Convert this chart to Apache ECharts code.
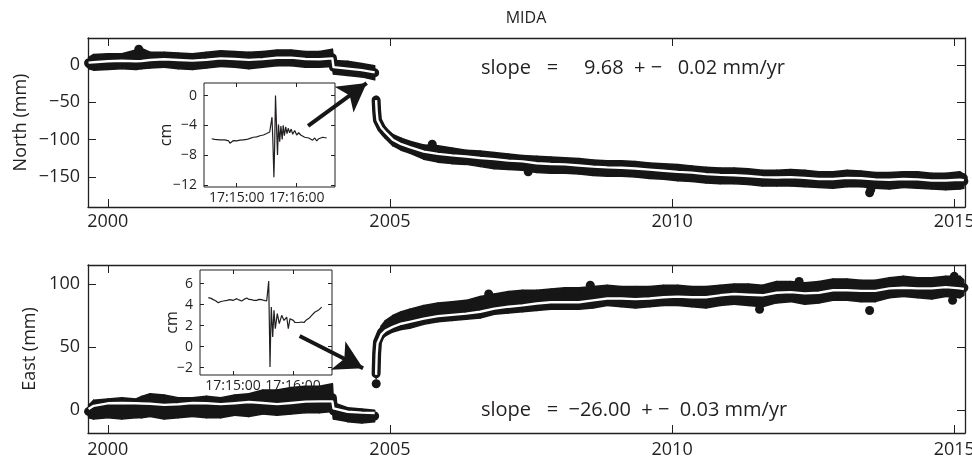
<!DOCTYPE html>
<html><head><meta charset="utf-8">
<script src="https://cdn.jsdelivr.net/npm/echarts@6/dist/echarts.min.js"></script>
<style>html,body{margin:0;padding:0;background:#fff}#c{width:972px;height:463px}</style>
</head><body><div id="c"></div>
<script>
const FONT = '"Open Sans", "Noto Sans", sans-serif';
const INK = '#231f20';
const DOT = '#161616';

const chartTitle = 'MIDA';
const xTicks = [2000, 2005, 2010, 2015];
const northTicks = [-150, -100, -50, 0];
const eastTicks = [0, 50, 100];
const northName = 'North (mm)';
const eastName = 'East (mm)';
const northSlope = 'slope   =     9.68  + \u2212   0.02 mm/yr';
const eastSlope = 'slope   =  \u221226.00  + \u2212  0.03 mm/yr';

// shared time grid (decimal years); null values mark the coseismic gap
const years = [
  1999.66, 1999.75, 2000.0, 2000.25, 2000.5, 2000.6, 2000.75, 2001.0, 2001.25, 2001.5,
  2001.75, 2002.0, 2002.25, 2002.5, 2002.75, 2003.0, 2003.25, 2003.5, 2003.75, 2003.98,
  2004.0, 2004.25, 2004.5, 2004.73, 2004.745,
  2004.755, 2004.765, 2004.78, 2004.85, 2004.92, 2005.05, 2005.2, 2005.35,
  2005.6, 2005.85, 2006.1, 2006.35, 2006.6, 2006.85, 2007.1, 2007.35, 2007.6, 2007.85,
  2008.1, 2008.35, 2008.6, 2008.85, 2009.1, 2009.35, 2009.6, 2009.85,
  2010.1, 2010.35, 2010.6, 2010.85, 2011.1, 2011.35, 2011.6, 2011.85,
  2012.1, 2012.35, 2012.6, 2012.85, 2013.1, 2013.35, 2013.6, 2013.85,
  2014.1, 2014.35, 2014.6, 2014.85, 2015.1, 2015.17
];

// North (mm): model curve (white) and the upper/lower edges of the data band
const northModel = [
  3.0, 3.5, 5.0, 5.5, 5.0, 5.3, 6.5, 7.5, 6.5, 5.8,
  7.0, 8.8, 8.0, 6.8, 7.8, 9.6, 9.8, 8.0, 7.6, 8.8,
  -3.0, -5.0, -7.0, -10.0, null,
  -47, -62, -74, -84, -90, -100, -106, -110,
  -116, -119, -121, -122.5, -124.5, -126, -128, -129, -131.5, -132.5,
  -133, -134.5, -136, -137, -137.5, -138.5, -140, -141.5,
  -143, -144, -146, -147, -147.5, -148.5, -150, -150.5,
  -150, -151, -152.5, -152.5, -151, -151.5, -153, -153.5,
  -152.5, -153, -154.5, -154.5, -153.5, -154
];
const northHi = [
  10, 14, 15, 15, 20, 22, 17, 17, 16, 15,
  17, 19, 18, 17, 18, 20, 20, 18, 18, 21,
  6, 5, 2, -1, null,
  -42, -56, -68, -78, -84, -93, -98, -102,
  -107, -108, -111, -114, -115, -117, -119, -121, -122, -123,
  -124, -125, -127, -128, -128, -129, -131, -132,
  -133, -135, -137, -138, -138, -139, -141, -141,
  -140, -141, -143, -143, -141, -142, -144, -144,
  -143, -143, -145, -145, -143, -146
];
const northLo = [
  -5, -7, -6, -5, -6, -5, -4, -3, -5, -6,
  -4, -2, -3, -5, -3, -1, -1, -3, -3, -2,
  -12, -14, -16, -20, null,
  -52, -68, -80, -91, -98, -108, -114, -118,
  -126, -130, -132, -133, -136, -139, -140, -141, -144, -145,
  -145, -146, -148, -149, -149, -150, -152, -153,
  -155, -156, -158, -159, -159, -160, -162, -162,
  -162, -163, -164, -165, -163, -163, -165, -166,
  -164, -165, -166, -167, -166, -165
];
const northOutliers = [[1999.68, 1], [2000.55, 21], [2005.75, -106], [2007.45, -143], [2013.5, -171], [2013.52, -167], [2015.16, -151]];

// East (mm)
const eastModel = [
  1.0, 3.5, 5.5, 5.8, 5.5, 5.4, 5.2, 4.3, 4.8, 5.7,
  5.5, 4.9, 5.6, 6.5, 5.8, 4.9, 5.8, 6.8, 7.0, 7.0,
  1.5, -1.2, -1.9, -2.2, null,
  28, 44, 53, 60, 63, 66, 68.5, 70,
  72.5, 74.5, 75.5, 76.5, 78, 80.5, 82, 83, 84.5, 85.5,
  85.5, 85.5, 87, 88.5, 88.5, 88, 88.5, 89.5,
  90, 89.5, 89.5, 91, 92, 91.5, 91, 93,
  93.5, 92.5, 93, 95, 95, 94.5, 94.5, 96.5,
  97, 96.5, 96.5, 97.5, 96.5, 96
];
const eastHi = [
  4, 8, 9, 10, 9, 11, 13, 12, 10, 10,
  11, 10, 12, 13, 16, 16, 18, 19, 19, 21,
  6, 2, 1, 0, null,
  33, 50, 59, 67, 71, 75, 78, 80,
  83, 85, 86, 87, 90, 92, 94, 95, 95, 96,
  97, 97, 98, 99, 98, 98, 98, 99,
  99, 98, 98, 99, 100, 100, 99, 102,
  102, 101, 102, 104, 104, 103, 103, 105,
  106, 105, 105, 106, 106, 103
];
const eastLo = [
  -6, -7, -6, -7, -6, -6, -5, -7, -6, -5,
  -6, -6, -4, -5, -3, -4, -3, -2, -2, -1,
  -7, -9, -10, -9, null,
  25, 40, 49, 56, 59, 62, 64, 65,
  68, 70, 71, 72, 73, 76, 77, 78, 79, 80,
  80, 80, 81, 83, 82, 81, 82, 83,
  83, 82, 81, 83, 84, 83, 82, 85,
  86, 84, 85, 87, 87, 86, 86, 89,
  90, 89, 88, 90, 89, 91
];
const eastOutliers = [[2004.757, 21], [2006.75, 92], [2008.55, 99], [2011.55, 80], [2012.25, 102], [2013.5, 79], [2014.97, 87], [2015.0, 106]];

// Insets: seconds after 17:15:00, displacement in cm
const insetTimeTicks = [0, 60];
const insetTimeLabels = ['17:15:00', '17:16:00'];
const insetNorthTicks = [-12, -8, -4, 0];
const insetEastTicks = [-2, 0, 2, 4, 6];
const insetNorthSec = [-25, -22, -20, -17, -15, -12, -10, -8, -6.7, -5, -3.3, 0, 3.3, 6.7, 10, 13.3, 16.7, 20, 23.3, 26.7, 30, 33, 34.5, 35.3, 36.2, 37.2, 38.0, 38.8, 39.8, 40.8, 41.8, 43, 44.2, 45.5, 46.5, 47.7, 49, 50.3, 51.5, 53, 54.5, 56, 58, 60, 62, 64, 66, 68, 70, 72, 74, 76, 78, 80, 82, 84, 86, 88, 90];
const insetNorthCm = [-5.8, -5.9, -5.85, -5.95, -5.8, -5.95, -6.0, -6.1, -6.4, -6.2, -6.05, -6.1, -6.0, -5.95, -5.9, -5.75, -5.6, -5.55, -5.4, -5.3, -5.1, -4.9, -4.7, -2.9, -6.2, -11.0, -6.5, 0.0, -4.0, -8.0, -3.9, -6.2, -4.1, -5.9, -4.0, -5.4, -4.2, -5.1, -4.4, -5.0, -4.5, -5.2, -4.7, -5.3, -5.0, -5.3, -5.2, -5.6, -5.4, -5.7, -5.6, -6.0, -5.7, -6.1, -5.8, -5.9, -5.6, -5.8, -5.7];
const insetEastSec = [-24.7, -22, -19.7, -17, -14.7, -12, -9.7, -6, -3, 0, 3.7, 6, 8.7, 11, 13.7, 16, 18.7, 21, 23.7, 26, 28.7, 31, 33.7, 35.2, 35.7, 36.4, 37.0, 37.6, 38.3, 39.7, 41, 42.3, 44.3, 46.3, 48.7, 51, 53.7, 55.3, 57, 60.3, 62, 63.7, 66, 68.7, 71, 73.7, 76, 78.7, 80.5, 82, 84, 85.3, 87, 88.7];
const insetEastCm = [4.67, 4.6, 4.48, 4.35, 4.19, 4.3, 4.35, 4.4, 4.48, 4.4, 4.57, 4.45, 4.35, 4.5, 4.63, 4.5, 4.48, 4.4, 4.41, 4.5, 4.48, 4.4, 4.35, 4.4, 6.25, 2.0, -1.94, 1.0, 3.77, 0.92, 3.46, 1.71, 3.14, 2.19, 2.98, 2.5, 2.82, 1.71, 2.66, 2.5, 2.3, 2.19, 2.3, 2.35, 2.3, 2.57, 2.7, 2.98, 2.9, 3.3, 3.2, 3.46, 3.4, 3.77];

// Arrows (data coordinates of the main panels): [tail, tip]
const northArrow = [[2003.55, -81.6], [2004.588, -24.2]];
const eastArrow = [[2003.40, 58.8], [2004.524, 33.3]];

// ---------- build ----------
const minus = v => String(v).replace('-', '\u2212');
const pairs = (xs, ys) => xs.map((x, i) => [x, ys[i]]);

function mainAxes(gridIndex, yMin, yMax, yTicks, name, nameGap, labelMargin) {
  const common = { gridIndex, splitLine: { show: false }, z: 1 };
  const tickStyle = { inside: true, length: 8, lineStyle: { color: INK, width: 1 } };
  const x = [
    Object.assign({}, common, {
      type: 'value', min: 1999.65, max: 2015.19, position: 'bottom',
      axisLine: { onZero: false, lineStyle: { color: INK, width: 1.3 } },
      axisTick: Object.assign({ customValues: xTicks }, tickStyle),
      axisLabel: { customValues: xTicks, fontSize: 18, color: INK, fontFamily: FONT, margin: labelMargin, formatter: v => String(v) }
    }),
    Object.assign({}, common, {
      type: 'value', min: 1999.65, max: 2015.19, position: 'top',
      axisLine: { onZero: false, lineStyle: { color: INK, width: 1.3 } },
      axisTick: Object.assign({ customValues: xTicks }, tickStyle),
      axisLabel: { show: false }
    })
  ];
  const y = [
    Object.assign({}, common, {
      type: 'value', min: yMin, max: yMax, position: 'left',
      name, nameLocation: 'middle', nameGap, nameRotate: 90, nameMoveOverlap: false,
      nameTextStyle: { fontSize: 18, color: INK, fontFamily: FONT },
      axisLine: { onZero: false, lineStyle: { color: INK, width: 1.3 } },
      axisTick: Object.assign({ customValues: yTicks }, tickStyle),
      axisLabel: { customValues: yTicks, fontSize: 18, color: INK, fontFamily: FONT, margin: 8, formatter: minus }
    }),
    Object.assign({}, common, {
      type: 'value', min: yMin, max: yMax, position: 'right',
      axisLine: { onZero: false, lineStyle: { color: INK, width: 1.3 } },
      axisTick: Object.assign({ customValues: yTicks }, tickStyle),
      axisLabel: { show: false }
    })
  ];
  return { x, y };
}

function insetAxes(gridIndex, xMin, xMax, yMin, yMax, yTicks, nameGap) {
  const common = { gridIndex, splitLine: { show: false }, z: 11 };
  const x = [
    Object.assign({}, common, {
      type: 'value', min: xMin, max: xMax, position: 'bottom',
      axisLine: { show: false, onZero: false },
      axisTick: { inside: true, length: 4, customValues: insetTimeTicks, lineStyle: { color: INK } },
      axisLabel: { customValues: insetTimeTicks, fontSize: 14, color: INK, fontFamily: FONT, margin: 4,
        formatter: v => insetTimeLabels[insetTimeTicks.indexOf(v)] || '' }
    }),
    Object.assign({}, common, {
      type: 'value', min: xMin, max: xMax, position: 'top',
      axisLine: { show: false, onZero: false },
      axisTick: { inside: true, length: 4, customValues: insetTimeTicks, lineStyle: { color: INK } },
      axisLabel: { show: false }
    })
  ];
  const y = [
    Object.assign({}, common, {
      type: 'value', min: yMin, max: yMax, position: 'left',
      name: 'cm', nameLocation: 'middle', nameGap, nameRotate: 90, nameMoveOverlap: false,
      nameTextStyle: { fontSize: 16, color: INK, fontFamily: FONT },
      axisLine: { show: false, onZero: false },
      axisTick: { inside: true, length: 4, customValues: yTicks, lineStyle: { color: INK } },
      axisLabel: { customValues: yTicks, fontSize: 14, color: INK, fontFamily: FONT, margin: 7, formatter: minus }
    }),
    Object.assign({}, common, {
      type: 'value', min: yMin, max: yMax, position: 'right',
      axisLine: { show: false, onZero: false },
      axisTick: { inside: true, length: 4, customValues: yTicks, lineStyle: { color: INK } },
      axisLabel: { show: false }
    })
  ];
  return { x, y };
}

const aN = mainAxes(0, -190, 36, northTicks, northName, 58, 6);
const aE = mainAxes(1, -18, 115, eastTicks, eastName, 49, 8);
const iN = insetAxes(2, -32.7, 98.3, -12.3, 1.7, insetNorthTicks, 30);
const iE = insetAxes(3, -33, 99, -2.7, 7.3, insetEastTicks, 20);

const xAxis = [...aN.x, ...aE.x, ...iN.x, ...iE.x];   // 0,1 | 2,3 | 4,5 | 6,7
const yAxis = [...aN.y, ...aE.y, ...iN.y, ...iE.y];

function panelSeries(xi, yi, model, hi, lo, outliers, arrow) {
  const bandData = years.map((t, i) => [t, lo[i], hi[i]]);
  const centerData = years.map((t, i) => [t, (hi[i] == null || lo[i] == null) ? null : (hi[i] + lo[i]) / 2]);
  const base = { xAxisIndex: xi, yAxisIndex: yi, silent: true, animation: false, emphasis: { disabled: true } };
  return [
    Object.assign({}, base, {
      type: 'custom', data: bandData, encode: { x: 0, y: [1, 2] }, z: 2,
      renderItem: (params, api) => {
        const i = params.dataIndex;
        if (i >= years.length - 1) return null;
        if (lo[i] == null || lo[i + 1] == null || hi[i] == null || hi[i + 1] == null) return null;
        const pts = [
          api.coord([years[i], hi[i]]), api.coord([years[i + 1], hi[i + 1]]),
          api.coord([years[i + 1], lo[i + 1]]), api.coord([years[i], lo[i]])
        ];
        return { type: 'polygon', shape: { points: pts }, style: { fill: DOT, stroke: DOT, lineWidth: 1.5, lineJoin: 'round' } };
      }
    }),
    Object.assign({}, base, { type: 'line', data: centerData, symbol: 'none', showSymbol: false, lineStyle: { width: 9, color: DOT, cap: 'round', join: 'round' }, z: 3 }),
    Object.assign({}, base, { type: 'scatter', data: outliers, symbol: 'circle', symbolSize: 9, itemStyle: { color: DOT, opacity: 1 }, z: 3 }),
    Object.assign({}, base, { type: 'line', data: pairs(years, model), symbol: 'none', showSymbol: false, lineStyle: { width: 2.4, color: '#ffffff', join: 'round' }, z: 4 }),
    Object.assign({}, base, {
      type: 'line', data: [arrow[0]], symbol: 'none', showSymbol: false, lineStyle: { width: 0, opacity: 0 }, z: 30,
      markLine: {
        silent: true, animation: false, z: 30, symbol: ['none', 'arrow'], symbolSize: [24, 28],
        lineStyle: { color: DOT, width: 4, type: 'solid' }, label: { show: false }, emphasis: { disabled: true },
        data: [[{ coord: arrow[0] }, { coord: arrow[1] }]]
      }
    })
  ];
}

function insetSeries(xi, yi, secs, cms) {
  return {
    type: 'line', xAxisIndex: xi, yAxisIndex: yi, data: pairs(secs, cms), symbol: 'none', showSymbol: false,
    silent: true, animation: false, lineStyle: { color: INK, width: 1.2 }, z: 12, emphasis: { disabled: true }
  };
}

const series = [
  ...panelSeries(0, 0, northModel, northHi, northLo, northOutliers, northArrow),
  ...panelSeries(2, 2, eastModel, eastHi, eastLo, eastOutliers, eastArrow),
  insetSeries(4, 4, insetNorthSec, insetNorthCm),
  insetSeries(6, 6, insetEastSec, insetEastCm)
];

const option = {
  animation: false,
  backgroundColor: '#ffffff',
  grid: [
    { left: 88, top: 38, width: 877, height: 169, containLabel: false, outerBoundsMode: 'none' },
    { left: 88, top: 265, width: 877, height: 168, containLabel: false, outerBoundsMode: 'none' },
    { left: 204, top: 83, width: 131, height: 104, show: true, backgroundColor: '#ffffff', borderColor: INK, borderWidth: 1, z: 10, containLabel: false, outerBoundsMode: 'none' },
    { left: 200, top: 270, width: 132, height: 105, show: true, backgroundColor: '#ffffff', borderColor: INK, borderWidth: 1, z: 10, containLabel: false, outerBoundsMode: 'none' }
  ],
  xAxis, yAxis, series,
  graphic: [
    { type: 'text', x: 526, y: 18, z: 50, silent: true, style: { text: chartTitle, fill: INK, font: '16px ' + FONT, align: 'center', verticalAlign: 'middle' } },
    { type: 'text', x: 481, y: 68, z: 50, silent: true, style: { text: northSlope, fill: INK, font: '20px ' + FONT, align: 'left', verticalAlign: 'middle' } },
    { type: 'text', x: 481, y: 410, z: 50, silent: true, style: { text: eastSlope, fill: INK, font: '20px ' + FONT, align: 'left', verticalAlign: 'middle' } }
  ]
};

const chart = echarts.init(document.getElementById('c'), null, { renderer: 'canvas' });
chart.setOption(option);
</script>
</body></html>
